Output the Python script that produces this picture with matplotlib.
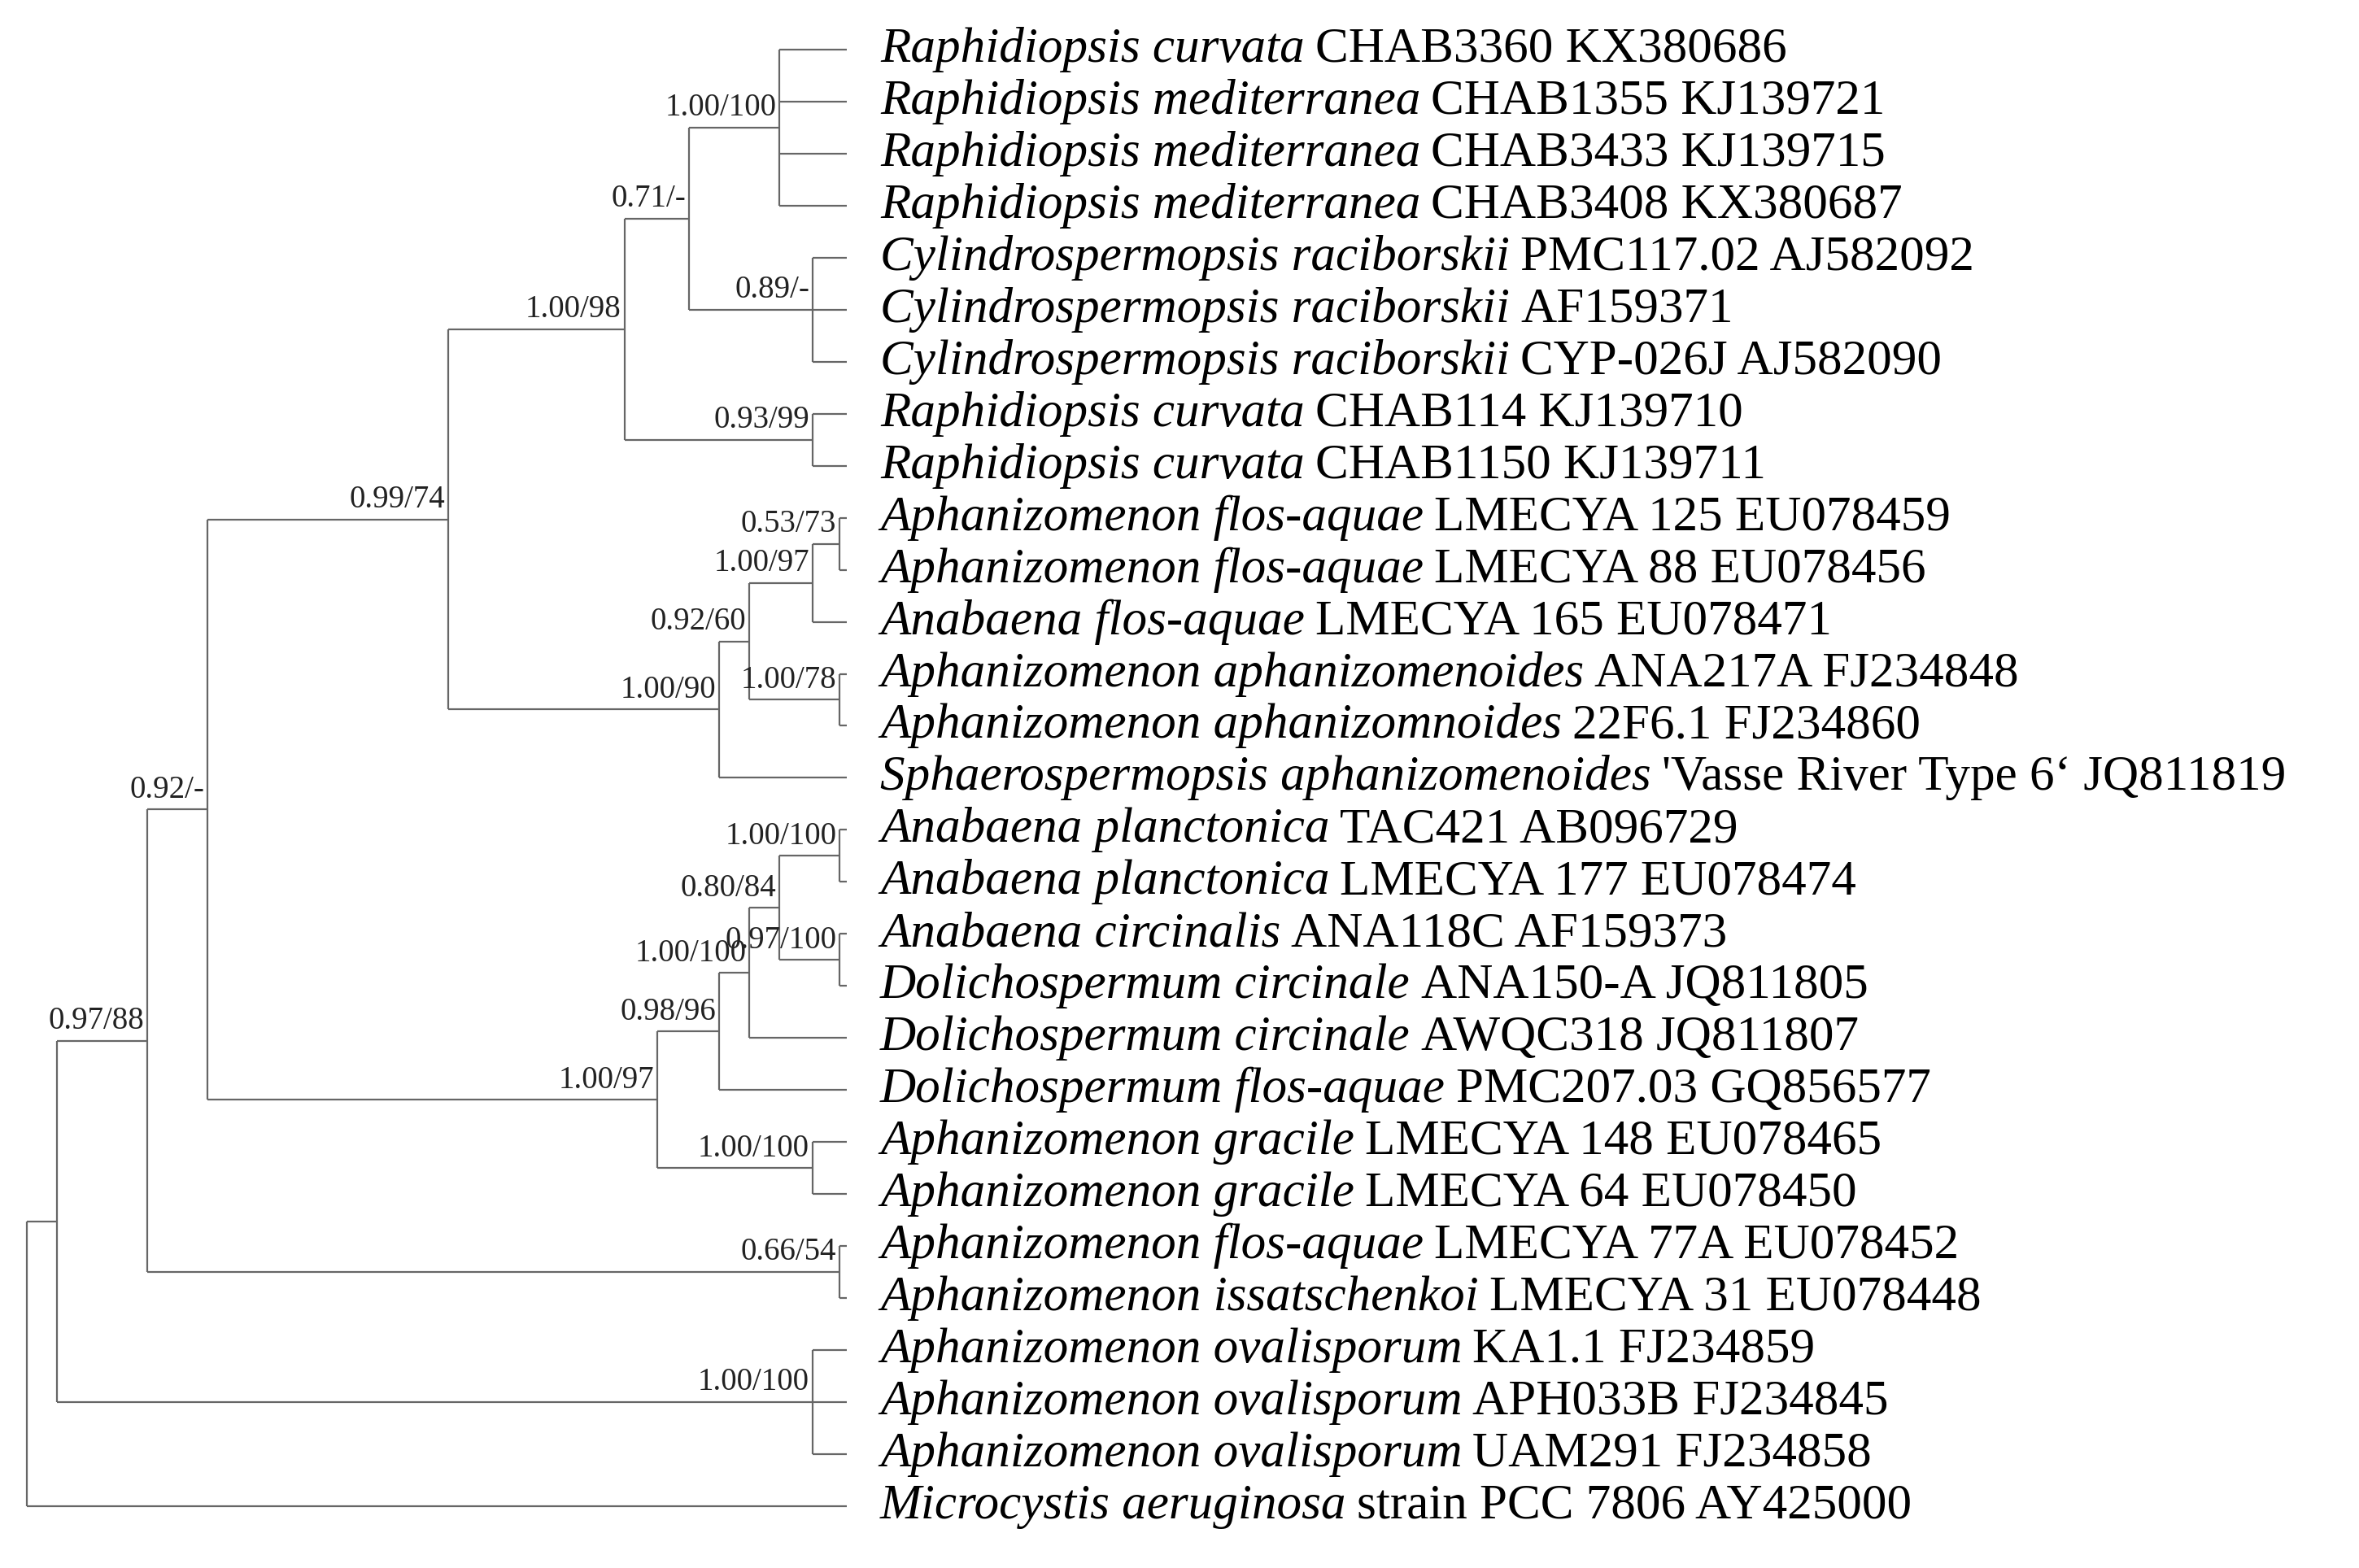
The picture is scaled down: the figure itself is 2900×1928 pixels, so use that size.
import matplotlib
matplotlib.use("Agg")
import matplotlib.pyplot as plt

species = ["Raphidiopsis curvata", "Raphidiopsis mediterranea", "Raphidiopsis mediterranea", "Raphidiopsis mediterranea",
           "Cylindrospermopsis raciborskii", "Cylindrospermopsis raciborskii", "Cylindrospermopsis raciborskii",
           "Raphidiopsis curvata", "Raphidiopsis curvata",
           "Aphanizomenon flos-aquae", "Aphanizomenon flos-aquae", "Anabaena flos-aquae",
           "Aphanizomenon aphanizomenoides", "Aphanizomenon aphanizomnoides", "Sphaerospermopsis aphanizomenoides",
           "Anabaena planctonica", "Anabaena planctonica", "Anabaena circinalis", "Dolichospermum circinale",
           "Dolichospermum circinale", "Dolichospermum flos-aquae", "Aphanizomenon gracile", "Aphanizomenon gracile",
           "Aphanizomenon flos-aquae", "Aphanizomenon issatschenkoi", "Aphanizomenon ovalisporum",
           "Aphanizomenon ovalisporum", "Aphanizomenon ovalisporum", "Microcystis aeruginosa"]
strains = ["CHAB3360 KX380686", "CHAB1355 KJ139721", "CHAB3433 KJ139715", "CHAB3408 KX380687",
           "PMC117.02 AJ582092", "AF159371", "CYP-026J AJ582090", "CHAB114 KJ139710", "CHAB1150 KJ139711",
           "LMECYA 125 EU078459", "LMECYA 88 EU078456", "LMECYA 165 EU078471", "ANA217A FJ234848",
           "22F6.1 FJ234860", "'Vasse River Type 6\u2018 JQ811819", "TAC421 AB096729", "LMECYA 177 EU078474",
           "ANA118C AF159373", "ANA150-A JQ811805", "AWQC318 JQ811807", "PMC207.03 GQ856577",
           "LMECYA 148 EU078465", "LMECYA 64 EU078450", "LMECYA 77A EU078452", "LMECYA 31 EU078448",
           "KA1.1 FJ234859", "APH033B FJ234845", "UAM291 FJ234858", "strain PCC 7806 AY425000"]
tip_depth = 563

# internal nodes: name -> (depth, children, support label)
nodes = [
    ("n1", 518, [0, 1, 2, 3], "1.00/100"),
    ("n2", 540, [4, 5, 6], "0.89/-"),
    ("n3", 458, ["n1", "n2"], "0.71/-"),
    ("n4", 540, [7, 8], "0.93/99"),
    ("n5", 415, ["n3", "n4"], "1.00/98"),
    ("n6", 558, [9, 10], "0.53/73"),
    ("n7", 540, ["n6", 11], "1.00/97"),
    ("n8", 558, [12, 13], "1.00/78"),
    ("n9", 498, ["n7", "n8"], "0.92/60"),
    ("n10", 478, ["n9", 14], "1.00/90"),
    ("n11", 298, ["n5", "n10"], "0.99/74"),
    ("n12", 558, [15, 16], "1.00/100"),
    ("n13", 558, [17, 18], "0.97/100"),
    ("n14", 518, ["n12", "n13"], "0.80/84"),
    ("n15", 498, ["n14", 19], "1.00/100"),
    ("n16", 478, ["n15", 20], "0.98/96"),
    ("n17", 540, [21, 22], "1.00/100"),
    ("n18", 437, ["n16", "n17"], "1.00/97"),
    ("n19", 138, ["n11", "n18"], "0.92/-"),
    ("n20", 558, [23, 24], "0.66/54"),
    ("n21", 98, ["n19", "n20"], "0.97/88"),
    ("n22", 540, [25, 26, 27], "1.00/100"),
    ("n23", 38, ["n21", "n22"], ""),
    ("root", 18, ["n23", 28], ""),
]

fig = plt.figure(figsize=(29, 19.28), dpi=100)
ax = fig.add_axes([0, 0, 1, 1])
ax.set_xlim(0, 1568)
ax.set_ylim(1043, 0)
ax.axis("off")

y0, dy = 33, 34.6
pos = {i: (tip_depth, y0 + i * dy) for i in range(len(species))}
lc, lw = "#666666", 1.6
labels = []
for name, d, ch, lab in nodes:
    ys = [pos[c][1] for c in ch]
    y = (min(ys) + max(ys)) / 2
    ax.plot([d, d], [min(ys), max(ys)], color=lc, lw=lw, solid_capstyle="butt")
    for c in ch:
        ax.plot([d, pos[c][0]], [pos[c][1], pos[c][1]], color=lc, lw=lw, solid_capstyle="butt")
    pos[name] = (d, y)
    labels.append((name, lab))

for name, lab in labels:
    if lab:
        d, y = pos[name]
        ax.text(d - 2, y - 3, lab, ha="right", va="bottom", fontsize=28,
                family="Liberation Serif", color="#222222")

fig.canvas.draw()
r = fig.canvas.get_renderer()
inv = ax.transData.inverted()
for i, (sp, st) in enumerate(zip(species, strains)):
    y = pos[i][1]
    t = ax.text(585, y, sp, style="italic", fontsize=44, family="Liberation Serif",
                va="center", ha="left", color="black")
    bb = t.get_window_extent(renderer=r)
    xe = inv.transform((bb.x1, bb.y0))[0]
    ax.text(xe + 7, y, st, fontsize=44, family="Liberation Serif", va="center", ha="left", color="black")

fig.savefig("out.png", dpi=100, facecolor="white")
